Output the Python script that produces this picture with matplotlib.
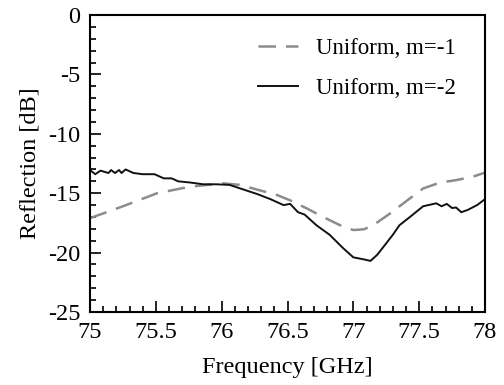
import matplotlib.pyplot as plt
from matplotlib.ticker import MultipleLocator

plt.rcParams['font.family'] = ['Liberation Serif', 'DejaVu Serif']

# m=-1 (dashed grey)
freq_m1 = [75.0, 75.25, 75.51, 75.76, 76.01, 76.14, 76.27, 76.42, 76.52, 76.65,
           76.77, 76.9, 77.0, 77.08, 77.15, 77.28, 77.41, 77.53, 77.66, 77.78,
           77.91, 78.0]
refl_m1 = [-17.1, -16.1, -15.0, -14.45, -14.17, -14.3, -14.7, -15.15, -15.6, -16.3,
           -17.0, -17.7, -18.1, -18.04, -17.7, -16.7, -15.6, -14.6, -14.1, -13.9,
           -13.6, -13.27]

# m=-2 (solid black)
freq_m2 = [75.0, 75.04, 75.08, 75.11, 75.14, 75.16, 75.19, 75.22, 75.24, 75.27,
           75.33, 75.4, 75.49, 75.56, 75.62, 75.67, 75.76, 75.86, 75.96, 76.06,
           76.16, 76.27, 76.37, 76.47, 76.52, 76.58, 76.63, 76.72, 76.82, 76.92,
           77.0, 77.08, 77.13, 77.18, 77.23, 77.3, 77.35, 77.43, 77.53, 77.61,
           77.63, 77.67, 77.71, 77.75, 77.78, 77.82, 77.87, 77.94, 78.0]
refl_m2 = [-13.05, -13.4, -13.1, -13.2, -13.3, -13.05, -13.3, -13.05, -13.3, -13.0,
           -13.3, -13.4, -13.4, -13.75, -13.75, -14.0, -14.1, -14.25, -14.25, -14.3,
           -14.67, -15.07, -15.5, -16.0, -15.9, -16.6, -16.8, -17.7, -18.5, -19.6,
           -20.4, -20.57, -20.7, -20.2, -19.5, -18.5, -17.7, -17.0, -16.1, -15.9,
           -15.85, -16.1, -15.9, -16.25, -16.2, -16.6, -16.4, -16.0, -15.5]

xticks = [75, 75.5, 76, 76.5, 77, 77.5, 78]
xtick_labels = ['75', '75.5', '76', '76.5', '77', '77.5', '78']
yticks = [0, -5, -10, -15, -20, -25]
ytick_labels = ['0', '-5', '-10', '-15', '-20', '-25']

fig = plt.figure(figsize=(5.04, 3.85), dpi=100)
ax = fig.add_axes([0.1786, 0.1896, 0.7837, 0.7714])

ax.plot(freq_m1, refl_m1, color='#8c8c8c', lw=1.8, dashes=(7, 4), label='Uniform, m=-1')
ax.plot(freq_m2, refl_m2, color='#111111', lw=1.4, label='Uniform, m=-2')

ax.set_xlim(75, 78)
ax.set_ylim(-25, 0)
ax.set_xticks(xticks)
ax.set_xticklabels(xtick_labels)
ax.set_yticks(yticks)
ax.set_yticklabels(ytick_labels)
ax.xaxis.set_minor_locator(MultipleLocator(0.1))
ax.yaxis.set_minor_locator(MultipleLocator(1))

ax.tick_params(which='both', direction='in', top=False, right=False, labelsize=17.5, width=1.2)
ax.tick_params(which='major', length=8, pad=7)
ax.tick_params(which='minor', length=4.5)
for s in ax.spines.values():
    s.set_linewidth(1.5)

ax.set_xlabel('Frequency [GHz]', fontsize=17.5, labelpad=10)
ax.set_ylabel('Reflection [dB]', fontsize=17.5, labelpad=5)

ax.legend(loc='upper right', frameon=False, fontsize=16.5, handlelength=1.75,
          handletextpad=0.8, labelspacing=0.85, borderaxespad=0.6,
          bbox_to_anchor=(0.985, 1.0))

fig.savefig('out.png', dpi=100)
